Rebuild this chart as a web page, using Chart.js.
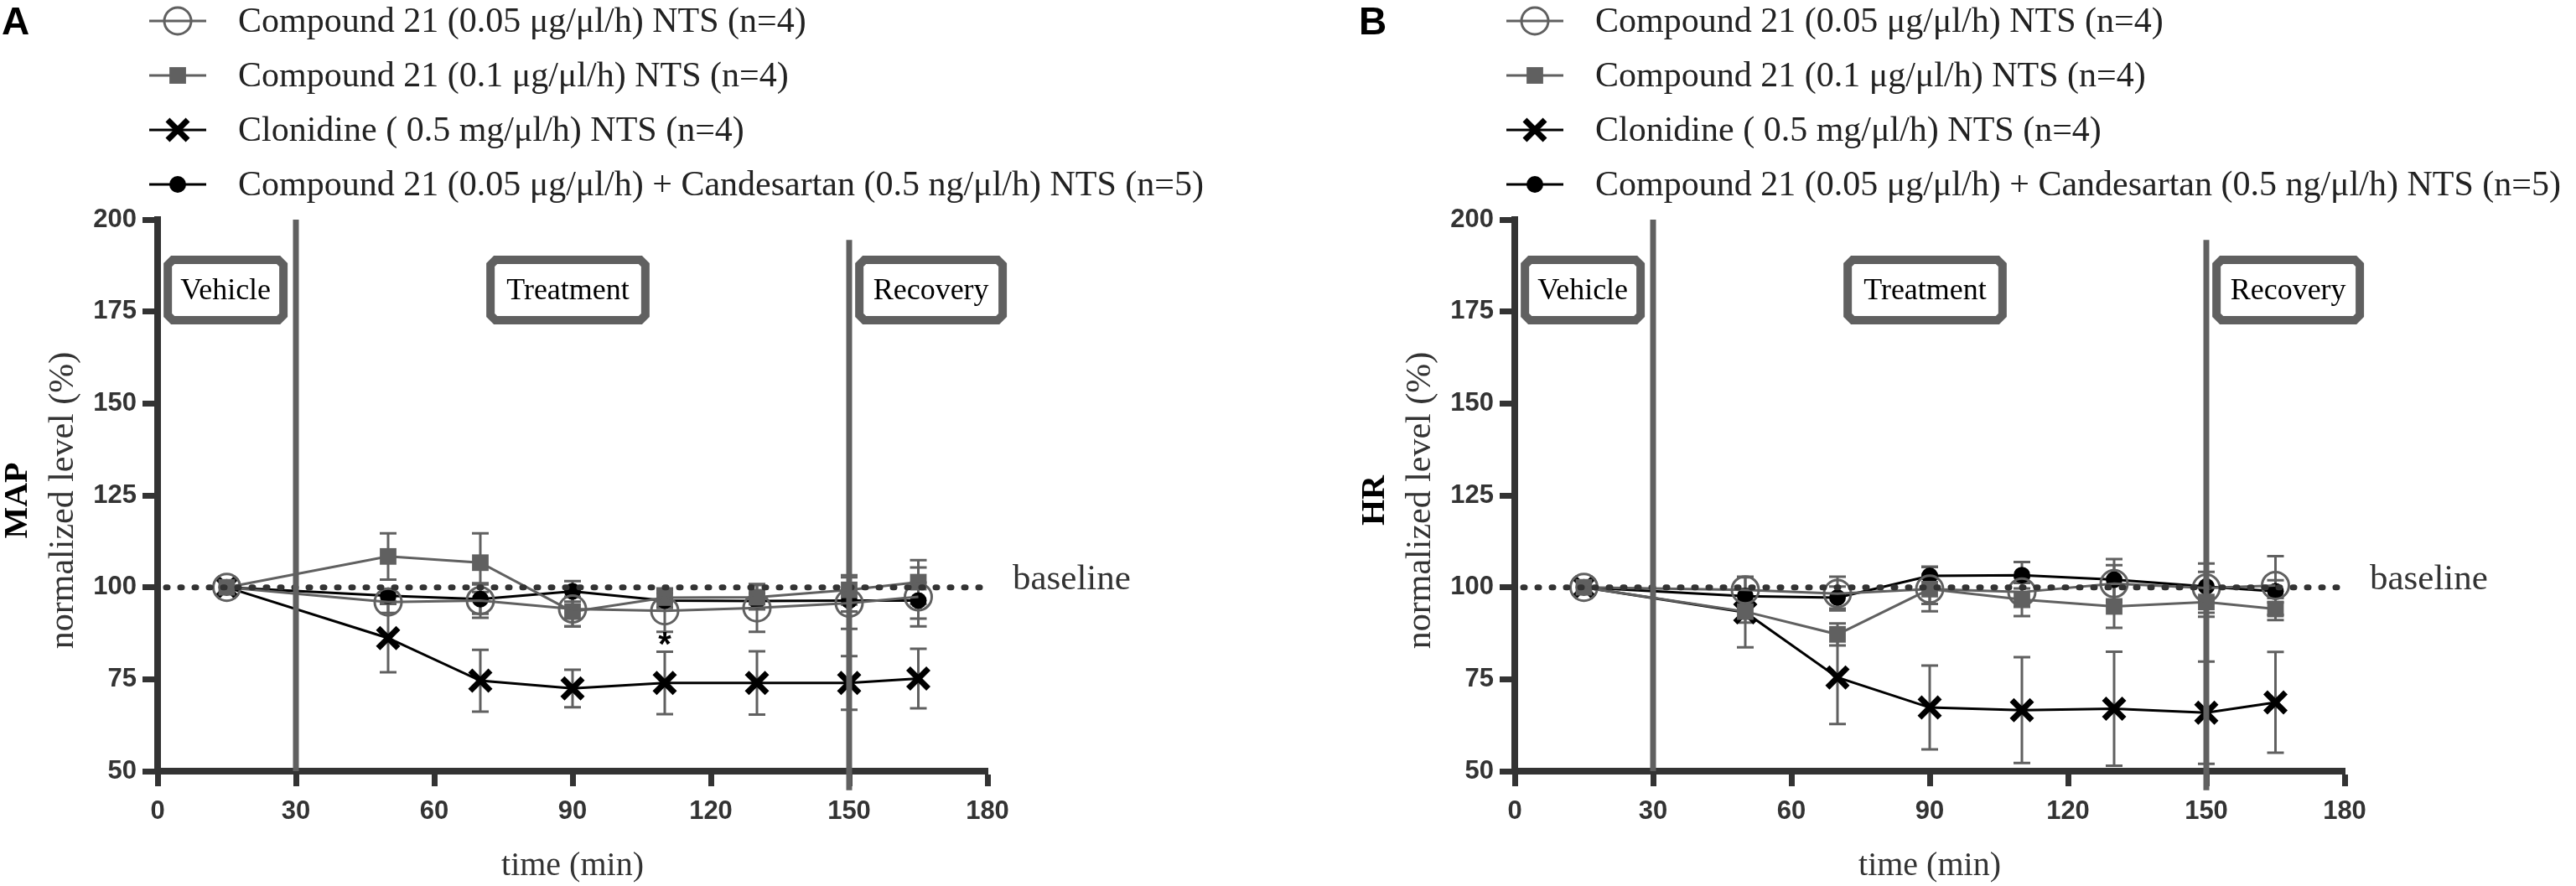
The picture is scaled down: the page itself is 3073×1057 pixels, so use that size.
<!DOCTYPE html>
<html>
<head>
<meta charset="utf-8">
<script src="https://cdn.jsdelivr.net/npm/chart.js@4.4.0/dist/chart.umd.min.js"></script>
<style>
  html, body { margin: 0; padding: 0; background: #fff; width: 3073px; height: 1057px; overflow: hidden; }
  canvas { position: absolute; top: 0; }
  #chartA { left: 0; }
  #chartB { left: 1619px; }
</style>
</head>
<body>
<canvas id="chartA" width="1619" height="1057"></canvas>
<canvas id="chartB" width="1454" height="1057"></canvas>
<script>
// sampling times (min)
const times = [15, 50, 70, 90, 110, 130, 150, 165];

const seriesLabels = [
  'Compound 21 (0.05 \u03bcg/\u03bcl/h) NTS (n=4)',
  'Compound 21 (0.1 \u03bcg/\u03bcl/h) NTS (n=4)',
  'Clonidine ( 0.5 mg/\u03bcl/h) NTS (n=4)',
  'Compound 21 (0.05 \u03bcg/\u03bcl/h) + Candesartan (0.5 ng/\u03bcl/h) NTS (n=5)'
];
const phaseLabels = ['Vehicle', 'Treatment', 'Recovery'];
const xTickStep = 30;
const yTickStep = 25;

// panel A - MAP
const mapC21Low = [100, 96.0, 96.4, 94.1, 93.6, 94.4, 95.7, 97.4];
const mapC21LowErr = [0, 3, 4.7, 4.7, 5.7, 6.5, 7, 8];
const mapC21High = [100, 108.4, 106.7, 93.4, 97.2, 97.3, 99.3, 101.4];
const mapC21HighErr = [0, 6.3, 8, 4, 2.5, 3.3, 4, 6];
const mapClonidine = [100, 86.2, 74.6, 72.5, 74.0, 74.0, 74.0, 75.2];
const mapClonidineErr = [0, 9.3, 8.4, 5.1, 8.5, 8.6, 7.3, 8.1];
const mapCandesartan = [100, 97.7, 96.8, 98.9, 96.4, 96.3, 96.4, 96.4];
const mapCandesartanErr = [0, 1.5, 4, 2.8, 2, 2, 3, 4.9];

// panel B - HR
const hrC21Low = [100, 99.3, 98.3, 99.5, 98.7, 101.0, 99.8, 100.5];
const hrC21LowErr = [0, 3.6, 4.6, 6, 4, 5, 6.7, 8];
const hrC21High = [100, 93.4, 87.2, 99.5, 96.7, 94.8, 96.0, 94.1];
const hrC21HighErr = [0, 3, 3, 4, 4.5, 5.8, 4, 3];
const hrClonidine = [100, 93.2, 75.5, 67.3, 66.6, 67.0, 65.9, 68.7];
const hrClonidineErr = [0, 9.5, 12.7, 11.4, 14.4, 15.5, 13.9, 13.7];
const hrCandesartan = [100, 97.6, 97.2, 103.1, 103.3, 102.1, 100.2, 98.9];
const hrCandesartanErr = [0, 2, 3, 2.5, 3.6, 5.6, 4, 3];

const GRAY = '#606060';
const DARK = '#333333';
const SERIF = '"Liberation Serif", "DejaVu Serif", serif';
const SANS = '"Liberation Sans", Arial, sans-serif';

function makeDatasets(vals) {
  return [
    { label: seriesLabels[0], data: vals[0], borderColor: GRAY, backgroundColor: 'rgba(0,0,0,0)',
      borderWidth: 3, pointStyle: 'circle', pointRadius: 16, pointBorderWidth: 3,
      pointBorderColor: GRAY, pointBackgroundColor: 'rgba(0,0,0,0)' },
    { label: seriesLabels[1], data: vals[1], borderColor: GRAY, backgroundColor: GRAY,
      borderWidth: 3, pointStyle: 'rect', pointRadius: 14, pointBorderWidth: 0,
      pointBackgroundColor: GRAY },
    { label: seriesLabels[2], data: vals[2], borderColor: '#000', backgroundColor: '#000',
      borderWidth: 3, pointStyle: 'crossRot', pointRadius: 17, pointBorderWidth: 7,
      pointBorderColor: '#000' },
    { label: seriesLabels[3], data: vals[3], borderColor: '#000', backgroundColor: '#000',
      borderWidth: 3, pointStyle: 'circle', pointRadius: 10, pointBorderWidth: 0,
      pointBackgroundColor: '#000' }
  ];
}

function chamferRect(ctx, x0, y0, x1, y1, c) {
  ctx.beginPath();
  ctx.moveTo(x0 + c, y0);
  ctx.lineTo(x1 - c, y0);
  ctx.lineTo(x1, y0 + c);
  ctx.lineTo(x1, y1 - c);
  ctx.lineTo(x1 - c, y1);
  ctx.lineTo(x0 + c, y1);
  ctx.lineTo(x0, y1 - c);
  ctx.lineTo(x0, y0 + c);
  ctx.closePath();
}

function drawMarker(ctx, ds, x, y) {
  ctx.save();
  ctx.fillStyle = ds.pointBackgroundColor || ds.backgroundColor;
  ctx.strokeStyle = ds.pointBorderColor || ds.borderColor;
  ctx.lineWidth = ds.pointBorderWidth;
  Chart.helpers.drawPoint(ctx, {
    pointStyle: ds.pointStyle, radius: ds.pointRadius,
    borderWidth: ds.pointBorderWidth, rotation: 0
  }, x, y);
  ctx.restore();
}

const overlay = {
  id: 'overlay',
  beforeDatasetsDraw(chart, args, o) {
    const ctx = chart.ctx, xs = chart.scales.x, ys = chart.scales.y;
    ctx.save();
    ctx.strokeStyle = GRAY;
    ctx.lineWidth = 3;
    chart.data.datasets.forEach((ds, di) => {
      const errs = o.errors[di];
      ds.data.forEach((pt, i) => {
        const e = errs[i];
        if (!e) return;
        const px = xs.getPixelForValue(pt.x);
        const top = ys.getPixelForValue(pt.y + e), bot = ys.getPixelForValue(pt.y - e);
        ctx.beginPath();
        ctx.moveTo(px, top); ctx.lineTo(px, bot);
        ctx.moveTo(px - 10, top); ctx.lineTo(px + 10, top);
        ctx.moveTo(px - 10, bot); ctx.lineTo(px + 10, bot);
        ctx.stroke();
      });
    });
    ctx.restore();
  },
  afterDatasetsDraw(chart, args, o) {
    const ctx = chart.ctx, xs = chart.scales.x, ys = chart.scales.y;
    const area = chart.chartArea;
    ctx.save();
    // baseline
    ctx.strokeStyle = DARK;
    ctx.lineWidth = 7;
    ctx.lineCap = 'round';
    ctx.setLineDash([2, 15]);
    const yb = ys.getPixelForValue(100);
    ctx.beginPath();
    ctx.moveTo(area.left + 10, yb); ctx.lineTo(area.right - 6, yb);
    ctx.stroke();
    ctx.setLineDash([]);
    ctx.lineCap = 'butt';
    // phase separators
    ctx.strokeStyle = GRAY;
    ctx.lineWidth = 7;
    ctx.beginPath();
    ctx.moveTo(xs.getPixelForValue(30), ys.getPixelForValue(200));
    ctx.lineTo(xs.getPixelForValue(30), ys.getPixelForValue(50));
    ctx.moveTo(xs.getPixelForValue(150), ys.getPixelForValue(194.5));
    ctx.lineTo(xs.getPixelForValue(150), ys.getPixelForValue(44.8));
    ctx.stroke();
    // phase boxes
    const boxes = [[1.3, 28.2], [71.3, 106.7], [151.3, 184.2]];
    boxes.forEach((b, i) => {
      const x0 = xs.getPixelForValue(b[0]) + 5, x1 = xs.getPixelForValue(b[1]) - 5;
      const y0 = ys.getPixelForValue(190.2) + 5, y1 = ys.getPixelForValue(171.5) - 5;
      chamferRect(ctx, x0, y0, x1, y1, 6);
      ctx.fillStyle = '#fff';
      ctx.fill();
      ctx.lineWidth = 10;
      ctx.strokeStyle = GRAY;
      ctx.stroke();
      ctx.fillStyle = '#000';
      ctx.font = '36px ' + SERIF;
      ctx.textAlign = 'center';
      ctx.textBaseline = 'middle';
      ctx.fillText(phaseLabels[i], (x0 + x1) / 2, (y0 + y1) / 2 + 2);
    });
    // significance mark
    if (o.asterisk) {
      ctx.fillStyle = '#000';
      ctx.font = 'bold 40px ' + SANS;
      ctx.textAlign = 'center';
      ctx.textBaseline = 'middle';
      ctx.fillText('*', xs.getPixelForValue(o.asterisk[0]), ys.getPixelForValue(o.asterisk[1]) + 6);
    }
    ctx.restore();
  },
  afterDraw(chart, args, o) {
    const ctx = chart.ctx, ys = chart.scales.y;
    const area = chart.chartArea;
    ctx.save();
    // legend
    const rows = [25, 90, 155, 220];
    chart.data.datasets.forEach((ds, i) => {
      const y = rows[i];
      ctx.strokeStyle = ds.borderColor;
      ctx.lineWidth = 3;
      ctx.beginPath();
      ctx.moveTo(178, y); ctx.lineTo(246, y);
      ctx.stroke();
      drawMarker(ctx, ds, 212, y);
      ctx.fillStyle = '#222';
      ctx.font = '42px ' + SERIF;
      ctx.textAlign = 'left';
      ctx.textBaseline = 'middle';
      ctx.fillText(ds.label, 284, y + 2);
    });
    // panel letter
    ctx.fillStyle = '#000';
    ctx.font = 'bold 46px ' + SANS;
    ctx.textAlign = 'left';
    ctx.textBaseline = 'middle';
    ctx.fillText(o.letter, 2, 28);
    // y titles
    const yc = (area.top + area.bottom) / 2 + 6;
    ctx.save();
    ctx.translate(22, yc);
    ctx.rotate(-Math.PI / 2);
    ctx.textAlign = 'center';
    ctx.textBaseline = 'middle';
    ctx.fillStyle = '#000';
    ctx.font = 'bold 40px ' + SERIF;
    ctx.fillText(o.title, 0, 0);
    ctx.restore();
    ctx.save();
    ctx.translate(76, yc);
    ctx.rotate(-Math.PI / 2);
    ctx.textAlign = 'center';
    ctx.textBaseline = 'middle';
    ctx.fillStyle = '#333';
    ctx.font = '42px ' + SERIF;
    ctx.fillText('normalized level (%)', 0, 0);
    ctx.restore();
    // x title
    ctx.fillStyle = '#333';
    ctx.font = '40px ' + SERIF;
    ctx.textAlign = 'center';
    ctx.textBaseline = 'middle';
    ctx.fillText('time (min)', (area.left + area.right) / 2, 1033);
    // baseline label
    ctx.font = '43px ' + SERIF;
    ctx.textAlign = 'left';
    ctx.textBaseline = 'alphabetic';
    ctx.fillText('baseline', area.right + 30, ys.getPixelForValue(100) + 2);
    ctx.restore();
  }
};

function makeChart(id, vals, errs, letter, title, asterisk) {
  const canvas = document.getElementById(id);
  const W = canvas.width;
  return new Chart(canvas.getContext('2d'), {
    type: 'line',
    data: {
      datasets: makeDatasets(vals).map(ds => Object.assign(ds, {
        data: ds.data.map((v, i) => ({ x: times[i], y: v })), tension: 0, fill: false
      }))
    },
    options: {
      responsive: false,
      animation: false,
      devicePixelRatio: 1,
      layout: { padding: { left: 0, top: 262, right: W - 1178, bottom: 0 } },
      plugins: {
        legend: { display: false },
        tooltip: { enabled: false },
        overlay: { errors: errs, letter: letter, title: title, asterisk: asterisk }
      },
      scales: {
        x: {
          type: 'linear', min: 0, max: 180, position: 'bottom',
          ticks: { stepSize: xTickStep, color: DARK, padding: 12, maxRotation: 0,
                   font: { family: SANS, weight: 'bold', size: 31 } },
          grid: { drawOnChartArea: false, tickLength: 18, tickWidth: 7, tickColor: DARK },
          border: { width: 8, color: DARK },
          afterFit: s => { s.height = 1057 - 920; }
        },
        y: {
          min: 50, max: 200,
          ticks: { stepSize: yTickStep, color: DARK, padding: 7,
                   font: { family: SANS, weight: 'bold', size: 31 } },
          grid: { drawOnChartArea: false, tickLength: 18, tickWidth: 7, tickColor: DARK },
          border: { width: 8, color: DARK },
          afterFit: s => { s.width = 188; }
        }
      }
    },
    plugins: [overlay]
  });
}

makeChart('chartA',
  [mapC21Low, mapC21High, mapClonidine, mapCandesartan],
  [mapC21LowErr, mapC21HighErr, mapClonidineErr, mapCandesartanErr],
  'A', 'MAP', [110, 85.4]);
makeChart('chartB',
  [hrC21Low, hrC21High, hrClonidine, hrCandesartan],
  [hrC21LowErr, hrC21HighErr, hrClonidineErr, hrCandesartanErr],
  'B', 'HR', null);
</script>
</body>
</html>
